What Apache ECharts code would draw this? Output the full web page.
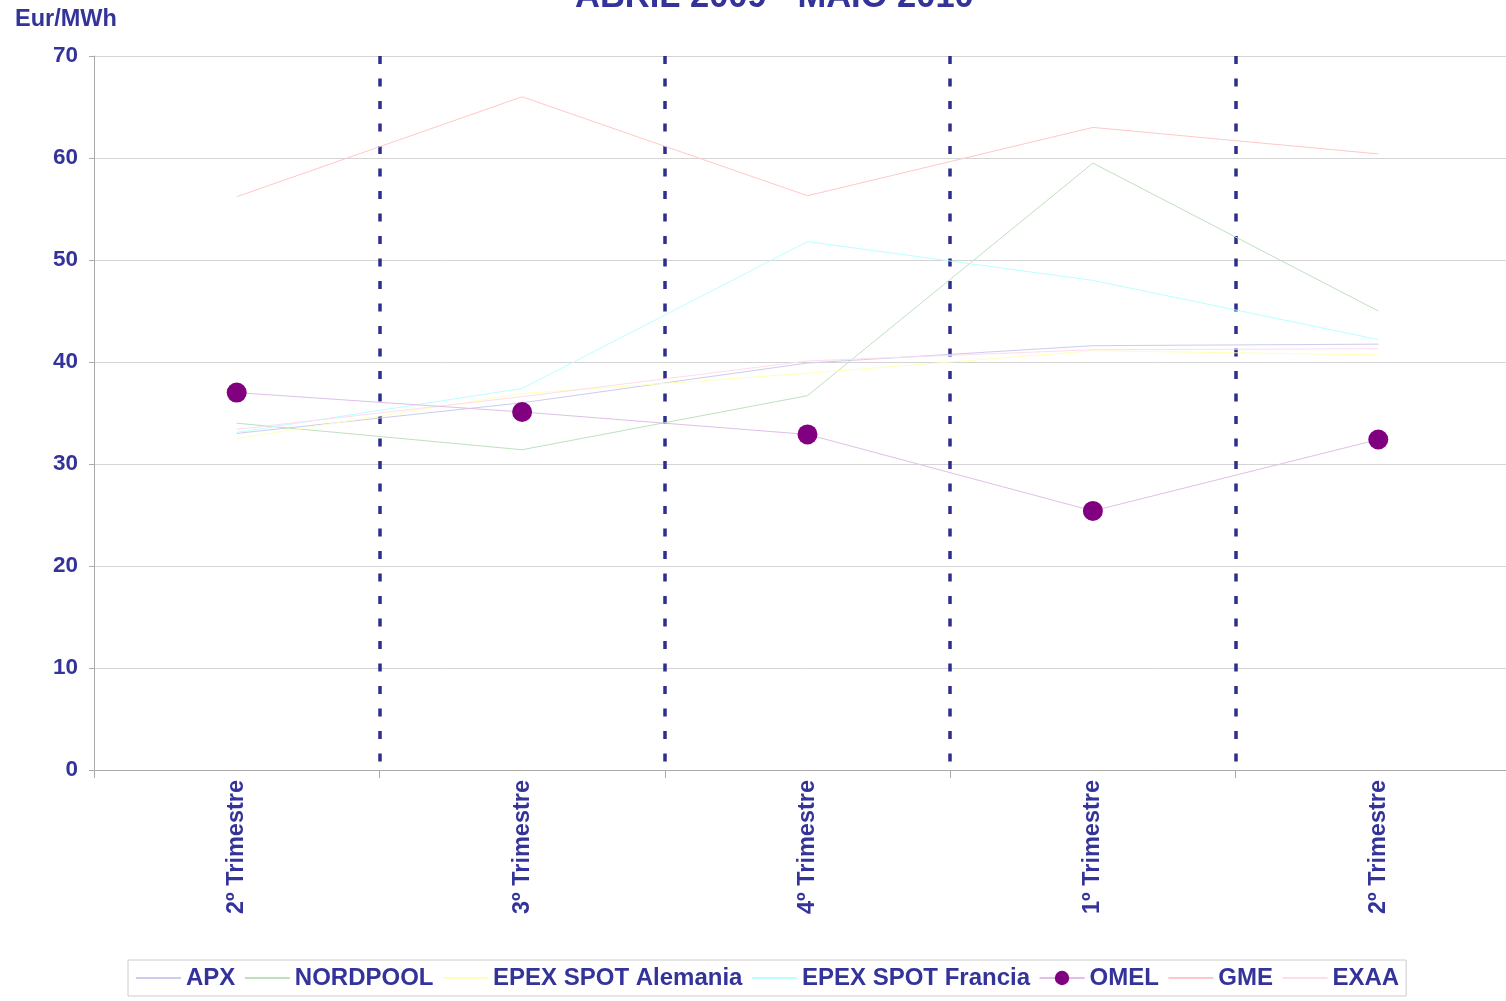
<!DOCTYPE html>
<html>
<head>
<meta charset="utf-8">
<script src="https://cdn.jsdelivr.net/npm/echarts@6/dist/echarts.min.js"></script>
<style>
html,body{margin:0;padding:0;background:#fff;}
#chart{width:1506px;height:1001px;}
</style>
</head>
<body>
<div id="chart"></div>
<script>
var categories = ['2º Trimestre', '3º Trimestre', '4º Trimestre', '1º Trimestre', '2º Trimestre'];
var yTicks = [0, 10, 20, 30, 40, 50, 60, 70];
var apx = [33.0, 36.0, 39.9, 41.6, 41.75];
var nordpool = [34.0, 31.4, 36.7, 59.5, 45.0];
var epexAlemania = [32.5, 36.9, 38.9, 41.1, 40.7];
var epexFrancia = [33.1, 37.4, 51.8, 48.0, 42.2];
var omel = [37.0, 35.1, 32.9, 25.4, 32.4];
var gme = [56.2, 66.0, 56.3, 63.0, 60.4];
var exaa = [33.4, 36.6, 40.1, 41.2, 41.3];
var seriesNames = ['APX', 'NORDPOOL', 'EPEX SPOT Alemania', 'EPEX SPOT Francia', 'OMEL', 'GME', 'EXAA'];

var navy = '#333399';
var font = 'Liberation Sans, Arial, sans-serif';

function lineSeries(name, data, color) {
  return {
    name: name, type: 'line', data: data,
    symbol: 'none', showSymbol: false,
    lineStyle: { color: color, width: 1 },
    itemStyle: { color: color },
    emphasis: { disabled: true },
    animation: false
  };
}

var legendData = seriesNames.map(function (n) {
  if (n === 'OMEL') return { name: n };
  return { name: n, itemStyle: { color: 'rgba(0,0,0,0)', borderWidth: 0, opacity: 0 } };
});

var chart = echarts.init(document.getElementById('chart'));
chart.setOption({
  backgroundColor: '#ffffff',
  animation: false,
  title: {
    text: 'ABRIL 2009 - MAIO 2010',
    left: 575, top: -20, padding: 0,
    textStyle: { color: navy, fontSize: 34.5, fontWeight: 'bold', fontFamily: font }
  },
  graphic: [{
    type: 'text', left: 15, top: 8,
    style: { text: 'Eur/MWh', fill: navy, font: 'bold 23.5px ' + font }
  }],
  legend: {
    left: 128, top: 960,
    padding: [6, 7, 6, 7],
    itemWidth: 45, itemHeight: 18, itemGap: 8.5,
    borderColor: '#cccccc', borderWidth: 1,
    backgroundColor: '#ffffff',
    textStyle: { color: navy, fontSize: 24, fontWeight: 'bold', fontFamily: font },
    data: legendData
  },
  grid: { left: 94, width: 1427, top: 56, bottom: 231, containLabel: false, outerBoundsMode: 'none' },
  xAxis: [{
    type: 'category', data: categories, boundaryGap: true,
    axisLine: { show: true, lineStyle: { color: '#aaaaaa', width: 1 } },
    axisTick: { show: true, length: 8, lineStyle: { color: '#aaaaaa' } },
    axisLabel: { rotate: 90, margin: 10, color: navy, fontSize: 23.5, fontWeight: 'bold', fontFamily: font },
    splitLine: { show: false }
  }, {
    type: 'value', min: 0, max: 5, interval: 1, position: 'bottom',
    axisLine: { show: false }, axisTick: { show: false }, axisLabel: { show: false },
    splitLine: { show: true, showMinLine: false, showMaxLine: false,
      lineStyle: { color: '#2e2e8c', width: 3.5, type: [8, 14.5] } }
  }],
  yAxis: {
    type: 'value', min: yTicks[0], max: yTicks[yTicks.length - 1], interval: 10,
    axisLine: { show: true, lineStyle: { color: '#aaaaaa', width: 1 } },
    axisTick: { show: true, length: 5, lineStyle: { color: '#aaaaaa' } },
    axisLabel: { margin: 16, color: navy, fontSize: 22.5, fontWeight: 'bold', fontFamily: font },
    splitLine: { show: true, lineStyle: { color: '#d4d4d4', width: 1 } }
  },
  series: [
    lineSeries('APX', apx, '#ccccee'),
    lineSeries('NORDPOOL', nordpool, '#bfe0bf'),
    lineSeries('EPEX SPOT Alemania', epexAlemania, '#ffffbb'),
    lineSeries('EPEX SPOT Francia', epexFrancia, '#bbffff'),
    lineSeries('GME', gme, '#ffc8c8'),
    lineSeries('EXAA', exaa, '#ffdcee'),
    {
      name: 'OMEL', type: 'line', data: omel,
      symbol: 'circle', symbolSize: 20, showSymbol: true, z: 5,
      lineStyle: { color: '#e0bfe8', width: 1 },
      itemStyle: { color: '#800080', borderWidth: 0 },
      emphasis: { disabled: true }, animation: false
    }
  ]
});
</script>
</body>
</html>
